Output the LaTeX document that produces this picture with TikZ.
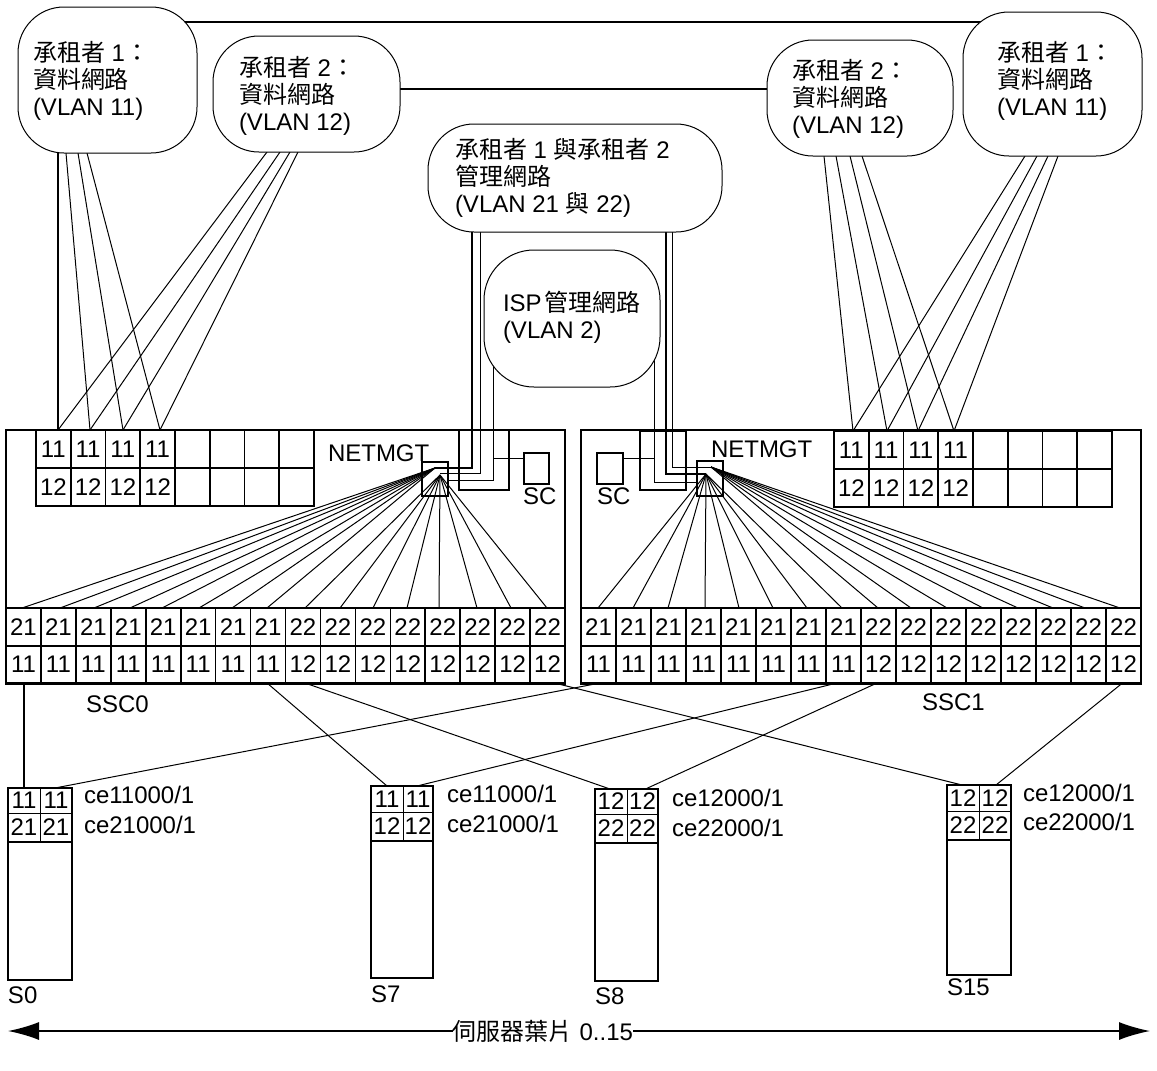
\documentclass[tikz,border=0pt]{standalone}
\usepackage{fontspec}
\setmainfont{Liberation Sans}
\newfontfamily\cjk{Noto Sans CJK TC}
\usetikzlibrary{arrows.meta,backgrounds}
\newcommand{\zh}[1]{{\cjk #1}}
\tikzset{
  x=1pt,y=-1pt,
  every node/.style={inner sep=0pt,outer sep=0pt,font=\fontsize{24}{27}\selectfont},
  cloudbox/.style={draw,fill=white,line width=1pt,rounded corners=46pt,minimum width=#1},
  cloudtext/.style={anchor=north west,align=left},
  cellbox/.style={draw,line width=1.6pt},
  framebox/.style={draw,line width=1.5pt},
  label/.style={anchor=base west},
  wire/.style={line width=1pt},
  heavy/.style={line width=1.6pt},
  fan/.style={line width=1pt},
}
\begin{document}
\begin{tikzpicture}
\useasboundingbox (0,0) rectangle (1157,1071);
% clouds
\node[cloudbox=179pt,minimum height=146pt] (c1) at (107.5,80) {};
\node[cloudbox=187pt,minimum height=116pt] (c2) at (306.5,94) {};
\node[cloudbox=186pt,minimum height=116pt] (c3) at (860,98) {};
\node[cloudbox=179pt,minimum height=144pt] (c4) at (1052.5,84) {};
\node[cloudbox=294pt,minimum height=108pt] (c5) at (575,178) {};
\node[cloudbox=176pt,minimum height=137pt,rounded corners=50pt] (c6) at (572,318.5) {};
\node[cloudtext] (t1) at (33,41) {\zh{承租者} 1\zh{：}\\\zh{資料網路}\\(VLAN 11)};
\node[cloudtext] (t2) at (239,56) {\zh{承租者} 2\zh{：}\\\zh{資料網路}\\(VLAN 12)};
\node[cloudtext] (t3) at (792,59) {\zh{承租者} 2\zh{：}\\\zh{資料網路}\\(VLAN 12)};
\node[cloudtext] (t4) at (997,41) {\zh{承租者} 1\zh{：}\\\zh{資料網路}\\(VLAN 11)};
\node[cloudtext] (t5) at (455,138) {\zh{承租者} 1 \zh{與承租者} 2\\\zh{管理網路}\\(VLAN 21 \zh{與} 22)};
\node[cloudtext] (t6) at (503,291) {ISP\hspace{3pt}\zh{管理網路}\\(VLAN 2)};
% chassis frames
\node[framebox,minimum width=559pt,minimum height=254pt] (ssc0) at (285.5,557) {};
\node[framebox,minimum width=560pt,minimum height=254pt] (ssc1) at (861,557) {};
% upper switch grids
\foreach \i in {0,...,7}{
  \pgfmathsetmacro\cx{36+34.75*(\i+.5)}
  \ifnum\i<4 \def\la{11}\def\lb{12}\else \def\la{}\def\lb{}\fi
  \node[cellbox,minimum width=34.75pt,minimum height=38pt] (ua\i) at (\cx,449) {\la};
  \node[cellbox,minimum width=34.75pt,minimum height=38pt] (ub\i) at (\cx,487) {\lb};
  \pgfmathsetmacro\cx{834+34.75*(\i+.5)}
  \node[cellbox,minimum width=34.75pt,minimum height=38pt] (va\i) at (\cx,450) {\la};
  \node[cellbox,minimum width=34.75pt,minimum height=38pt] (vb\i) at (\cx,488) {\lb};
}
% lower switch grids
\foreach \i in {0,...,15}{
  \ifnum\i<8 \def\la{21}\def\lb{11}\else \def\la{22}\def\lb{12}\fi
  \pgfmathsetmacro\cx{6+34.94*(\i+.5)}
  \node[cellbox,minimum width=34.94pt,minimum height=38pt] (la\i) at (\cx,627) {\la};
  \node[cellbox,minimum width=34.94pt,minimum height=37pt] (lb\i) at (\cx,664.5) {\lb};
  \pgfmathsetmacro\cx{581+35*(\i+.5)}
  \node[cellbox,minimum width=35pt,minimum height=38pt] (ra\i) at (\cx,627) {\la};
  \node[cellbox,minimum width=35pt,minimum height=37pt] (rb\i) at (\cx,664.5) {\lb};
}
% netmgt, sc
\node[framebox,minimum width=26pt,minimum height=34pt] (nl) at (435,479) {};
\node[framebox,minimum width=26pt,minimum height=35pt] (nr) at (710,478.5) {};
\node[framebox,minimum width=50pt,minimum height=60pt] (bl) at (484,460) {};
\node[framebox,minimum width=46pt,minimum height=59pt] (br) at (663,460.5) {};
\node[framebox,minimum width=25pt,minimum height=31pt] (scl) at (536.5,468.5) {};
\node[framebox,minimum width=26pt,minimum height=31pt] (scr) at (610,468.5) {};
\node[label] (nlt) at (328,461) {NETMGT};
\node[label] (nrt) at (711,457) {NETMGT};
\node[label] (slt) at (523,504) {SC};
\node[label] (srt) at (597,504) {SC};
\node[label] (ss0) at (86,712) {SSC0};
\node[label] (ss1) at (922,710) {SSC1};
% servers
\foreach \n/\xa/\xm/\xb/\ya/\ym/\yc/\yd/\p/\q/\nm/\ny/\tx/\tya/\tyb/\ta/\tb in {
  s0/8/40/72/788/813/842/980/11/21/S0/1003/84/803/833/ce11000\slash1/ce21000\slash1,
  s7/371/403/433/786/812/841/978/11/12/S7/1002/447/802/832/ce11000\slash1/ce21000\slash1,
  s8/595/627/658/789/814/843/981/12/22/S8/1004/672/806/836/ce12000\slash1/ce22000\slash1,
  s15/947/979/1011/785/811/840/975/12/22/S15/995/1023/801/830/ce12000\slash1/ce22000\slash1}{
  \pgfmathsetmacro\wa{\xm-\xa}\pgfmathsetmacro\wb{\xb-\xm}
  \pgfmathsetmacro\ca{(\xa+\xm)/2}\pgfmathsetmacro\cb{(\xm+\xb)/2}
  \pgfmathsetmacro\ha{\ym-\ya}\pgfmathsetmacro\hb{\yc-\ym}
  \pgfmathsetmacro\ra{(\ya+\ym)/2}\pgfmathsetmacro\rb{(\ym+\yc)/2}
  \pgfmathsetmacro\wf{\xb-\xa}\pgfmathsetmacro\hf{\yd-\ya}
  \pgfmathsetmacro\cf{(\xa+\xb)/2}\pgfmathsetmacro\rf{(\ya+\yd)/2}
  \node[draw,line width=.7pt,minimum width=\wa pt,minimum height=\ha pt] (\n a) at (\ca,\ra) {\p};
  \node[draw,line width=.7pt,minimum width=\wb pt,minimum height=\ha pt] (\n b) at (\cb,\ra) {\p};
  \node[draw,line width=.7pt,minimum width=\wa pt,minimum height=\hb pt] (\n c) at (\ca,\rb) {\q};
  \node[draw,line width=.7pt,minimum width=\wb pt,minimum height=\hb pt] (\n d) at (\cb,\rb) {\q};
  \node[framebox,minimum width=\wf pt,minimum height=\hf pt] (\n) at (\cf,\rf) {};
  \draw[line width=1.5pt] (\n c.south west) -- (\n d.south east);
  \node[label] (\n lab) at (\xa,\ny) {\nm};
  \node[label] (\n ta) at (\tx,\tya) {\ta};
  \node[label] (\n tb) at (\tx,\tyb) {\tb};
}
% bottom range label
\node (range) at (543,1031) {\zh{伺服器葉片} 0..15};
\coordinate (rl) at (8,1031);
\coordinate (rr) at (1150,1031);
% hubs
\coordinate (hl1) at (435,468);
\coordinate (hl2) at (440,475);
\coordinate (hl3) at (448,480);
\coordinate (hl4) at (440,473);
\coordinate (hr1) at (706,474);
\coordinate (hr2) at (711,467);
\coordinate (hr3) at (697,482);
\begin{scope}[on background layer]
  \draw[heavy] ([xshift=77.5pt,yshift=131pt]c1.south) -- ([xshift=-71.5pt,yshift=134pt]c4.south);
  \draw[heavy] ([yshift=5pt]c2.east) -- ([yshift=9pt]c3.west);
  % tenant data links
  \draw[heavy] ([xshift=-49.5pt]c1.south) -- ([xshift=4.6pt]ua0.north);
  \foreach \a/\b in {66/1,78/2,87/3}{
    \pgfmathsetmacro\da{\a-107.5}\pgfmathsetmacro\db{{58,90,123,160}[\b]-(36+34.75*(\b+.5))}
    \draw[wire] ([xshift=\da pt]c1.south) -- ([xshift=\db pt]ua\b.north);}
  \foreach \a/\b in {267/0,280/1,290/2,298/3}{
    \pgfmathsetmacro\da{\a-306.5}\pgfmathsetmacro\db{{58,90,123,160}[\b]-(36+34.75*(\b+.5))}
    \draw[wire] ([xshift=\da pt]c2.south) -- ([xshift=\db pt]ua\b.north);}
  \foreach \a/\b in {824/0,836/1,850/2,862/3}{
    \pgfmathsetmacro\da{\a-860}\pgfmathsetmacro\db{{853,887,918,954}[\b]-(834+34.75*(\b+.5))}
    \draw[wire] ([xshift=\da pt]c3.south) -- ([xshift=\db pt]va\b.north);}
  \foreach \a/\b in {1025/0,1037/1,1048/2,1058/3}{
    \pgfmathsetmacro\da{\a-1052.5}\pgfmathsetmacro\db{{853,887,918,954}[\b]-(834+34.75*(\b+.5))}
    \draw[wire] ([xshift=\da pt]c4.south) -- ([xshift=\db pt]va\b.north);}
  % fans
  \foreach \i/\x in {0/22,1/60,2/94,3/130,4/162,5/199,6/232,7/267}{
    \pgfmathsetmacro\d{\x-(6+34.94*(\i+.5))}
    \draw[fan] (hl1) -- ([xshift=\d pt]la\i.north);}
  \foreach \i/\x in {8/305,9/340,10/373,11/407,12/439,13/477,14/511,15/547}{
    \pgfmathsetmacro\d{\x-(6+34.94*(\i+.5))}
    \draw[fan] (hl2) -- ([xshift=\d pt]la\i.north);}
  \foreach \i/\x in {0/598,1/633,2/668,3/705,4/739,5/773,6/807,7/842}{
    \pgfmathsetmacro\d{\x-(581+35*(\i+.5))}
    \draw[fan] (hr1) -- ([xshift=\d pt]ra\i.north);}
  \foreach \i/\x in {8/878,9/911,10/947,11/983,12/1018,13/1053,14/1085,15/1120}{
    \pgfmathsetmacro\d{\x-(581+35*(\i+.5))}
    \draw[fan] (hr2) -- ([xshift=\d pt]ra\i.north);}
  % management wires
  \draw[heavy] ([xshift=-103pt]c5.south) |- (hl1);
  \draw[wire] ([xshift=-95pt]c5.south) |- (hl4);
  \draw[wire] ([xshift=-79pt,yshift=30pt]c6.south) |- (hl3);
  \draw[wire] ([yshift=10.5pt]scl.west) -- ++(-30,0);
  \draw[heavy] ([xshift=91pt]c5.south) |- (hr1);
  \draw[wire] ([xshift=97pt]c5.south) |- (hr2);
  \draw[wire] ([xshift=82pt,yshift=30pt]c6.south) |- (hr3);
  \draw[wire] ([yshift=10.5pt]scr.east) -- ++(31,0);
  % server links
  \draw[heavy] ([xshift=.5pt]lb0.south) -- (s0a.north);
  \draw[wire] ([xshift=1.5pt]rb0.south) -- ([xshift=-1pt]s0b.north);
  \draw[wire] ([xshift=-1pt]lb7.south) -- (s7a.north);
  \draw[wire] ([xshift=-6.5pt]rb7.south) -- ([xshift=-1pt]s7b.north);
  \draw[wire] ([xshift=2pt]lb8.south) -- ([xshift=-1pt]s8a.north);
  \draw[wire] ([xshift=-1.5pt]rb8.south) -- ([xshift=3pt]s8b.north);
  \draw[wire] ([xshift=7pt]lb15.south) -- ([xshift=-1pt]s15a.north);
  \draw[wire] ([xshift=-1pt]rb15.south) -- ([xshift=1pt]s15b.north);
  \draw[heavy,-{Latex[length=31pt,width=18pt]}] (range.west) -- (rl);
  \draw[heavy,-{Latex[length=31pt,width=18pt]}] (range.east) -- (rr);
\end{scope}
\end{tikzpicture}
\end{document}
